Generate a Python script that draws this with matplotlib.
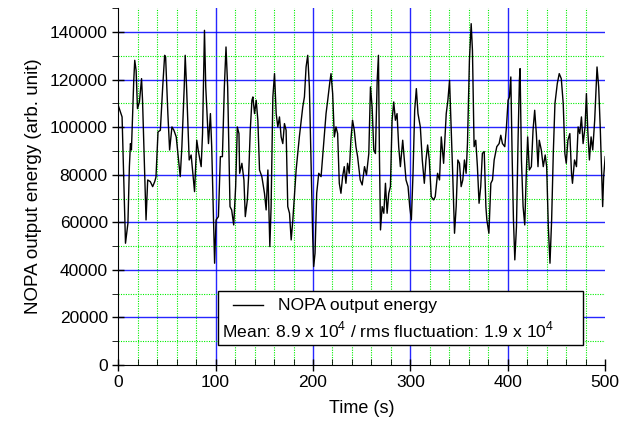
import matplotlib
matplotlib.use("Agg")
import matplotlib.pyplot as plt
from matplotlib.ticker import MultipleLocator
from matplotlib.patches import Rectangle
from matplotlib.lines import Line2D

plt.rcParams['font.family'] = ['Liberation Sans', 'DejaVu Sans']

# time (s) and NOPA output energy (arb. unit, in thousands)
time_s = [
    0, 4, 7.5, 10, 11.5, 12.6, 13.6, 16, 17, 18.4, 19.8, 21.8, 24, 25, 28.6, 30.3,
    33, 35.4, 37.5, 38.8, 40.9, 43.3, 45.7, 47.7, 48.7, 51, 52.8, 55.2, 57.2, 59.6,
    63.7, 65.4, 67.8, 68.8, 70.2, 72.9, 74.9, 78.4, 80.7, 82.4, 85.2, 86.6, 88.6,
    89.9, 92.7, 94.7, 96, 98, 99, 100.5, 102.9, 104.9, 107, 109, 110.7, 112.4,
    114.8, 116.5, 118.6, 120.6, 122.3, 124,
    124.7, 127, 129.1, 130.5, 132.6, 133.9, 135.6, 137.3, 138.3, 140, 141.7, 143.4,
    145.1, 147.5, 150.2, 151.9, 153.7, 155.7, 157, 158.8, 160.5, 162.2, 163.9,
    165.6, 167.3, 169, 170.7, 172.4, 174.1, 175.9, 177.6, 179.3, 182.7, 186, 189.5,
    191.2, 192.9, 194.6, 196.3, 198, 199.7, 200.7, 202.1, 203.8, 205.9, 208.3, 211,
    213.4, 215.1, 217.1, 218.5, 220.2, 221.9, 223.6, 225.3, 227, 228.7, 230.4,
    232.1, 233.8, 235.5, 237.2, 238.9, 240.6, 242.4, 244.1, 245.8, 248.5,
    250.5, 252.9, 254.9, 257.3, 259, 260.7, 262.4, 264.1, 265.9, 267.2, 268.2,
    269.3, 271, 272.7, 274.4, 276.1, 277.8, 279.5, 281.2, 282.9, 284.6, 286.3, 288,
    289.7, 292.1, 293.8, 295.5, 297.6, 299.3, 301, 302.7, 304.4, 306.1, 307.8,
    310.2, 312.2, 314.3, 316, 317.7, 319.4, 321.4, 323.8, 325.5, 327.9, 329.9,
    331.7, 334.1, 336.8, 338.5, 340.2, 341.6, 343.3, 345.3, 347, 348.7, 350.4,
    352.1, 353.8, 355.5, 357.2, 358.6, 360.6, 362.4, 363.7, 365.4, 367.1, 368.8,
    370.5, 372.2, 373.9, 375.8,
    377.5, 378.5, 380.6, 382.6, 384.3, 386, 388.7, 391.1, 392.8, 394.5, 396.9,
    398.6, 400.3, 401.7, 403.1, 404.4, 405.8, 407.2, 408.9, 410.6, 411.9, 412.6,
    414, 415.7, 417.4, 419.1, 420.4, 422.1, 424.2, 425.9, 427.6, 429.3, 431, 432.3,
    434.4, 436.4, 438.4, 439.9, 441.6, 443.3, 445, 446.7, 448.4, 450.8, 452.8,
    454.9, 456.9, 458.6, 460, 461.7, 463.7, 465.4, 466.4, 468.5, 470.5, 472.2,
    473.9, 475.6, 477.3, 479.3, 480.7, 482.1, 483.8, 485.5, 487.2, 489.2, 491.6,
    493.3, 495, 496.4, 497.4, 498.4, 500,
]
energy_k = [
    109.2, 104.3, 51.2, 59.6, 83.4, 93.1, 90.4, 119.7, 128.1, 123.9, 107.8, 110.6,
    120.4, 111.3, 61.0, 77.8, 77.1, 75.0, 77.1, 79.0, 98.0, 98.7, 116.9, 130.2,
    129.5, 105.7, 90.4, 100.1, 98.7, 95.9, 79.2, 91.8, 116.9, 130.2, 116.9, 86.2,
    88.3, 72.9, 94.5, 89.7, 83.4, 97.3, 140.7, 116.9, 93.1, 105.7, 91.8, 59.6,
    42.8, 61.0, 62.4, 87.6, 87.6, 116.9, 133.7, 116.9, 66.6, 65.2, 58.9, 75.0,
    100.1, 97.3,
    80.6, 84.8, 77.8, 62.4, 69.4, 79.2, 98.7, 111.3, 112.7, 105.7, 111.3, 102.9,
    82.0, 79.2, 72.2, 65.2, 82.0, 49.8, 66.6, 112.7, 122.5, 105.7, 100.1, 104.3,
    95.9, 93.1, 101.5, 98.7, 66.6, 63.8, 52.6, 61.0, 82.0, 95.9, 108.5, 112.7,
    125.3, 130.2, 116.9, 86.2, 54.0, 41.4, 47.0, 72.2, 80.6, 79.2, 93.1, 105.7,
    111.3, 118.3, 122.5, 114.1, 95.9, 100.1, 97.3, 76.4, 72.2, 79.2, 83.4, 76.4,
    84.8, 80.6, 94.5, 102.9, 98.7, 91.8, 87.6, 77.8,
    75.7, 83.4, 79.9, 88.9, 116.9, 108.5, 90.4, 88.9, 119.7, 130.2, 88.9, 56.8,
    66.6, 63.8, 76.4, 63.8, 72.2, 75.0, 102.9, 110.6, 102.9, 105.7, 91.8, 83.4,
    94.5, 86.2, 77.8, 75.0, 66.6, 61.0, 80.6, 107.1, 116.2, 105.7, 100.1, 86.2,
    76.4, 86.2, 92.5, 86.2, 70.8, 69.4, 70.8, 80.6, 77.8, 95.9, 84.8, 105.7,
    111.3, 119.7, 102.9, 82.0, 55.4, 66.6, 86.2, 84.8, 75.0, 77.8, 86.2, 80.6,
    93.1, 128.1, 143.5, 132.3, 91.8, 94.5, 83.4, 68.0, 75.0, 89.0, 89.7,
    66.6, 61.0, 55.4, 76.4, 77.8, 86.2, 91.8, 93.1, 96.6, 93.1, 91.8, 100.1,
    111.3, 112.7, 121.1, 88.9, 61.0, 44.2, 58.2, 95.9, 119.7, 124.6, 86.2, 66.6,
    58.9, 82.0, 95.9, 82.0, 83.4, 98.7, 107.1, 97.3, 83.4, 94.5, 90.4, 83.4, 88.3,
    83.4, 58.2, 42.8, 61.0, 89.0, 109.9, 118.3, 122.5, 120.4, 109.9, 88.9, 84.8,
    94.5, 97.3, 80.6, 76.4, 86.2, 83.4, 100.1, 97.3, 104.3, 93.1, 100.1, 114.1,
    98.7, 86.2, 95.9, 90.4, 102.9, 125.3, 116.9, 98.7, 79.2, 66.6, 79.2, 87.6,
]
energy = [v * 1000 for v in energy_k]

legend_label = "NOPA output energy"
stats_label = r"Mean: 8.9 x 10$^{\mathregular{4}}$ / rms fluctuation: 1.9 x 10$^{\mathregular{4}}$"

fig = plt.figure(figsize=(6.22, 4.32), dpi=100)
ax = fig.add_axes([0.19, 0.155, 0.783, 0.826])

# grid: blue every 100 s / 20000, green dotted in between (none on the outer edge)
for gx in range(20, 500, 20):
    if gx % 100 == 0:
        ax.axvline(gx, color='#0000ff', linewidth=1.0, alpha=0.85, zorder=0)
    else:
        ax.axvline(gx, color='#00ee00', linestyle=(0, (1, 1.2)), linewidth=0.8, zorder=0)
for gy in range(10000, 150000, 10000):
    if gy % 20000 == 0:
        ax.axhline(gy, color='#0000ff', linewidth=1.0, alpha=0.85, zorder=0)
    else:
        ax.axhline(gy, color='#00ee00', linestyle=(0, (1, 1.2)), linewidth=0.8, zorder=0)

ax.plot(time_s, energy, color='black', linewidth=1.0, zorder=2)

ax.set_xlim(0, 500)
ax.set_ylim(0, 150000)
ax.xaxis.set_major_locator(MultipleLocator(100))
ax.xaxis.set_minor_locator(MultipleLocator(20))
ax.yaxis.set_major_locator(MultipleLocator(20000))
ax.yaxis.set_minor_locator(MultipleLocator(10000))
ax.spines['top'].set_visible(False)
ax.spines['right'].set_visible(False)
ax.tick_params(which='major', direction='inout', length=8, width=1, labelsize=12.5)
ax.tick_params(axis='x', which='minor', direction='in', length=4)
ax.tick_params(axis='y', which='minor', direction='out', length=4)
ax.set_xlabel("Time (s)", fontsize=13, labelpad=7)
ax.set_ylabel("NOPA output energy (arb. unit)", fontsize=13.5, labelpad=6)

# legend box
ax.add_patch(Rectangle((0.205, 0.056), 0.75, 0.151, transform=ax.transAxes,
                       facecolor='white', edgecolor='black', linewidth=1, zorder=5))
ax.add_line(Line2D([0.236, 0.298], [0.168, 0.168], transform=ax.transAxes,
                   color='black', linewidth=1, zorder=6))
ax.text(0.329, 0.168, legend_label, transform=ax.transAxes, fontsize=12.6,
        va='center', ha='left', zorder=6)
ax.text(0.214, 0.098, stats_label, transform=ax.transAxes, fontsize=12.6,
        va='center', ha='left', zorder=6)

fig.savefig("out.png", dpi=100)
